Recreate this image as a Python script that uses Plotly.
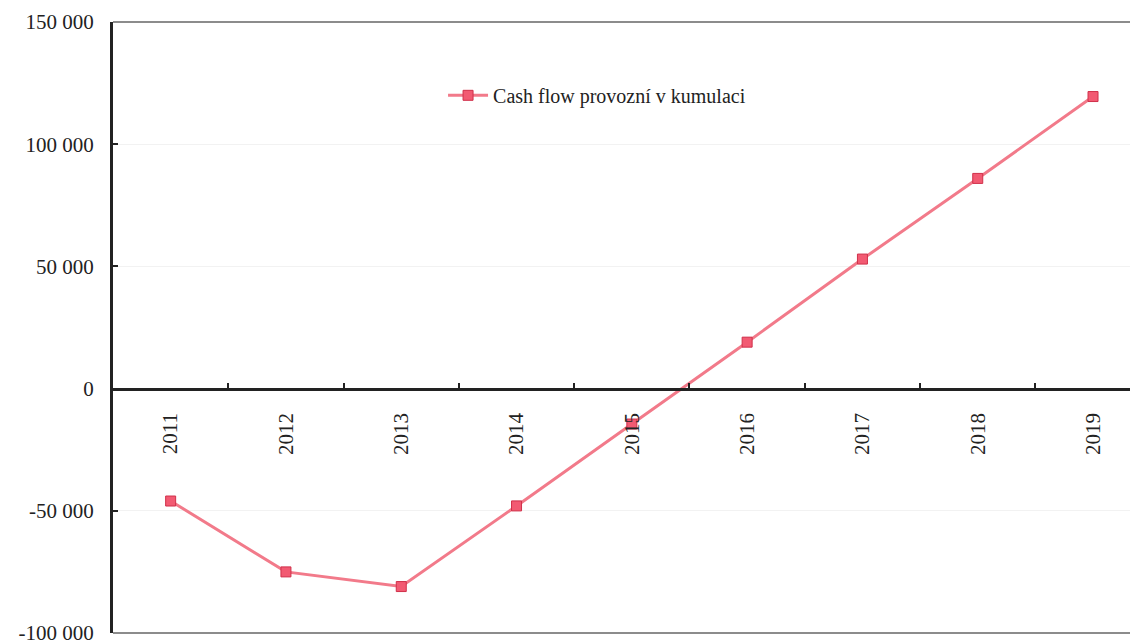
import plotly.graph_objects as go

years = ["2011", "2012", "2013", "2014", "2015", "2016", "2017", "2018", "2019"]
cash_flow = [-46000, -75000, -81000, -48000, -14500, 19000, 53000, 86000, 119500]
y_ticks = [-100000, -50000, 0, 50000, 100000, 150000]
y_labels = ["-100 000", "-50 000", "0", "50 000", "100 000", "150 000"]

font_family = "Liberation Serif, Times New Roman, serif"

fig = go.Figure()
fig.add_trace(go.Scatter(
    x=years, y=cash_flow, mode="lines+markers",
    name="Cash flow provozní v kumulaci",
    line=dict(color="#f27a8a", width=3),
    marker=dict(symbol="square", size=10, color="#f25a72",
                line=dict(color="#d0304a", width=1)),
))

fig.update_layout(
    width=1130, height=636,
    margin=dict(l=105, r=0, t=14, b=11),
    paper_bgcolor="white", plot_bgcolor="white",
    font=dict(family=font_family, size=20, color="#222"),
    showlegend=True,
    legend=dict(x=0.322, y=0.88, xanchor="left", yanchor="middle",
                bgcolor="rgba(0,0,0,0)", font=dict(size=20, family=font_family, color="#222"),
                itemwidth=40),
    xaxis=dict(
        type="category", range=[-0.5, 8.39],
        anchor="free", position=0.4,
        showline=True, linecolor="#222", linewidth=3,
        ticks="inside", tickson="boundaries", ticklen=5, tickwidth=2, tickcolor="#222",
        tickangle=-90, ticklabelstandoff=14,
        tickfont=dict(size=21, family=font_family, color="#222"),
        showgrid=False, zeroline=False,
    ),
    yaxis=dict(
        range=[-100000, 150000],
        tickvals=y_ticks, ticktext=y_labels,
        showline=True, linecolor="#222", linewidth=3,
        ticks="inside", ticklen=5, tickwidth=2, tickcolor="#222",
        ticklabelstandoff=12, ticklabeloverflow="allow",
        tickfont=dict(size=21, family=font_family, color="#222"),
        showgrid=True, gridcolor="#f2f2f2", gridwidth=1,
        zeroline=False,
    ),
)

# thin frame lines at top and bottom of the plot area
fig.add_shape(type="line", xref="paper", yref="paper", x0=0, x1=1, y0=1, y1=1,
              line=dict(color="#666", width=1.5))
fig.add_shape(type="line", xref="paper", yref="paper", x0=0, x1=1, y0=0, y1=0,
              line=dict(color="#666", width=1.5))

fig.write_html("out.html")
